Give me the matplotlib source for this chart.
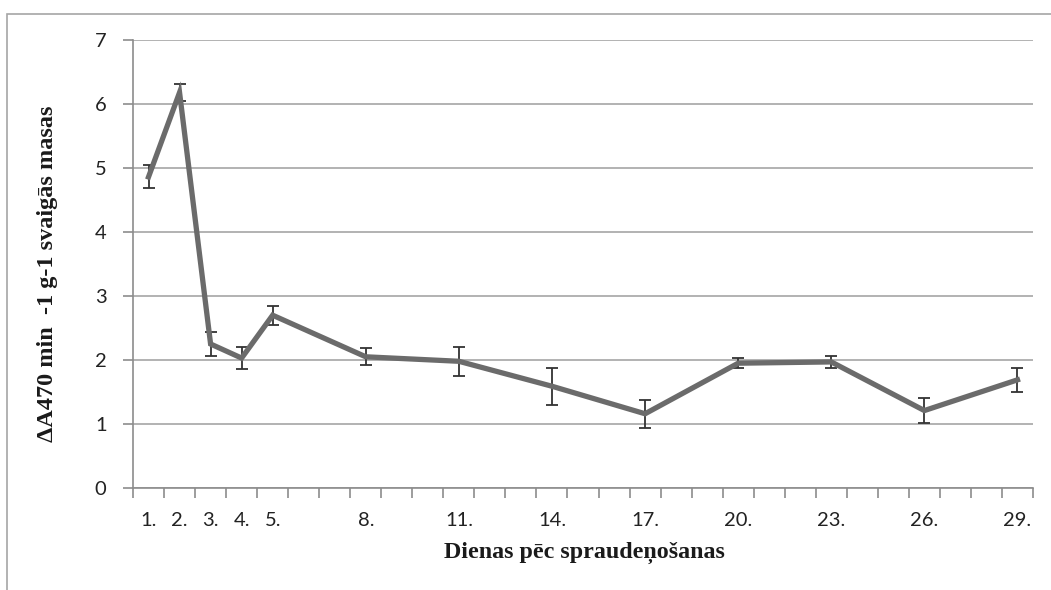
import matplotlib.pyplot as plt
from matplotlib.patches import Rectangle

# Dienas un vērtības
days = [1, 2, 3, 4, 5, 8, 11, 14, 17, 20, 23, 26, 29]
values = [4.86, 6.18, 2.25, 2.03, 2.70, 2.05, 1.98, 1.59, 1.16, 1.95, 1.97, 1.21, 1.69]
errors = [0.18, 0.14, 0.18, 0.17, 0.15, 0.13, 0.23, 0.29, 0.22, 0.08, 0.10, 0.20, 0.19]
tick_labels = [f'{d}.' for d in days]

fig = plt.figure(figsize=(10.51, 5.9), dpi=100)
ax = fig.add_axes([133 / 1051, 1 - 488 / 590, 900 / 1051, 448 / 590])

# outer chart border
fig.patches.append(Rectangle((7 / 1051, -0.2), 1.2, 1.2 - 14 / 590,
                             transform=fig.transFigure, fill=False,
                             edgecolor='#a6a6a6', linewidth=1.2))

ax.errorbar(days, values, yerr=errors, fmt='none', ecolor='#333333',
            elinewidth=1.3, capsize=4.5, capthick=1.3, zorder=3)
ax.plot(days, values, color='#6b6b6b', linewidth=3.8, solid_joinstyle='miter', zorder=4)

ax.set_xlim(0.5, 29.5)
ax.set_ylim(0, 7)
ax.set_yticks(range(0, 8))
ax.set_xticks(days)
ax.set_xticklabels(tick_labels)
ax.set_xticks([d + 0.5 for d in range(0, 30)], minor=True)
ax.tick_params(axis='x', which='major', length=0, pad=17, labelsize=14.5,
               labelcolor='#222222')
ax.tick_params(axis='x', which='minor', length=7, width=1.2, color='#8c8c8c', direction='out')
ax.tick_params(axis='y', length=7, width=1.2, color='#8c8c8c', pad=12, labelsize=14.5,
               labelcolor='#222222')
for lab in ax.get_xticklabels() + ax.get_yticklabels():
    lab.set_fontfamily('Lato')

ax.grid(axis='y', color='#a6a6a6', linewidth=1.2)
ax.set_axisbelow(True)
for s in ['top', 'right']:
    ax.spines[s].set_visible(False)
for s in ['left', 'bottom']:
    ax.spines[s].set_color('#8c8c8c')
    ax.spines[s].set_linewidth(1.2)

fig.text(584 / 1051, 1 - 553 / 590, 'Dienas pēc spraudeņošanas', ha='center', va='center',
         fontsize=17.3, fontweight='bold', family='Liberation Serif', color='#1a1a1a')
fig.text(48 / 1051, 1 - 274 / 590, 'ΔA470 min  -1 g-1 svaigās masas', ha='center', va='center',
         rotation=90, fontsize=17.5, fontweight='bold', family='Liberation Serif', color='#1a1a1a')

fig.savefig('out.png', dpi=100)
